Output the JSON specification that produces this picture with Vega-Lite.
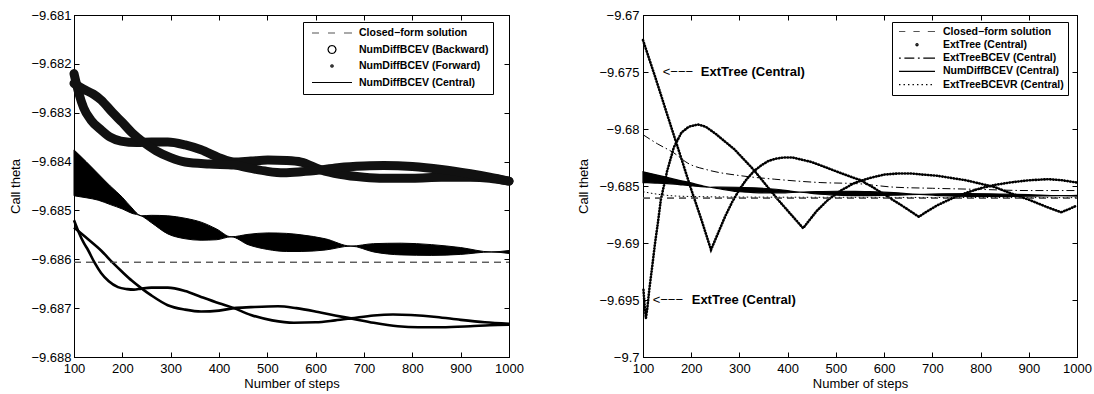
{
  "$schema": "https://vega.github.io/schema/vega-lite/v6.json",
  "background": "white",
  "padding": {"left": 9, "top": 8, "right": 5, "bottom": 5},
  "bounds": "flush",
  "spacing": 134,
  "datasets": {
    "closed": [{"x": 100, "y": -9.68606}, {"x": 1000, "y": -9.68606}],
    "band": [
      {"x": 100, "y": -9.68376, "y2": -9.68470}, {"x": 125, "y": -9.68400, "y2": -9.68474},
      {"x": 150, "y": -9.68425, "y2": -9.68479}, {"x": 175, "y": -9.68450, "y2": -9.68488},
      {"x": 200, "y": -9.68473, "y2": -9.68497}, {"x": 220, "y": -9.68495, "y2": -9.68506},
      {"x": 239, "y": -9.68511, "y2": -9.68511}, {"x": 260, "y": -9.68510, "y2": -9.68525},
      {"x": 294, "y": -9.68511, "y2": -9.68548}, {"x": 330, "y": -9.68516, "y2": -9.68558},
      {"x": 363, "y": -9.68524, "y2": -9.68561}, {"x": 395, "y": -9.68538, "y2": -9.68560},
      {"x": 425, "y": -9.68554, "y2": -9.68554}, {"x": 460, "y": -9.68549, "y2": -9.68570},
      {"x": 501, "y": -9.68546, "y2": -9.68580}, {"x": 540, "y": -9.68547, "y2": -9.68584},
      {"x": 570, "y": -9.68550, "y2": -9.68584}, {"x": 620, "y": -9.68558, "y2": -9.68581},
      {"x": 673, "y": -9.68573, "y2": -9.68573}, {"x": 720, "y": -9.68568, "y2": -9.68585},
      {"x": 777, "y": -9.68567, "y2": -9.68591}, {"x": 840, "y": -9.68570, "y2": -9.68592},
      {"x": 900, "y": -9.68576, "y2": -9.68590}, {"x": 963, "y": -9.68585, "y2": -9.68585},
      {"x": 1000, "y": -9.68582, "y2": -9.68588}
    ],
    "lb": [
      {"c": "q", "x": 100, "y": -9.68220}, {"c": "q", "x": 110, "y": -9.68260}, {"c": "q", "x": 120, "y": -9.68290},
      {"c": "q", "x": 135, "y": -9.68315}, {"c": "q", "x": 156, "y": -9.68335}, {"c": "q", "x": 175, "y": -9.68350},
      {"c": "q", "x": 197, "y": -9.68358}, {"c": "q", "x": 230, "y": -9.68361}, {"c": "q", "x": 260, "y": -9.68360},
      {"c": "q", "x": 294, "y": -9.68360}, {"c": "q", "x": 330, "y": -9.68366}, {"c": "q", "x": 363, "y": -9.68376},
      {"c": "q", "x": 400, "y": -9.68392}, {"c": "q", "x": 431, "y": -9.68401}, {"c": "q", "x": 466, "y": -9.68399},
      {"c": "q", "x": 501, "y": -9.68397}, {"c": "q", "x": 540, "y": -9.68398}, {"c": "q", "x": 570, "y": -9.68401},
      {"c": "q", "x": 611, "y": -9.68417}, {"c": "q", "x": 650, "y": -9.68426}, {"c": "q", "x": 700, "y": -9.68432},
      {"c": "q", "x": 741, "y": -9.68434}, {"c": "q", "x": 800, "y": -9.68434}, {"c": "q", "x": 860, "y": -9.68432},
      {"c": "q", "x": 920, "y": -9.68432}, {"c": "q", "x": 960, "y": -9.68434}, {"c": "q", "x": 1000, "y": -9.68440},
      {"c": "p", "x": 100, "y": -9.68240}, {"c": "p", "x": 120, "y": -9.68252}, {"c": "p", "x": 140, "y": -9.68262},
      {"c": "p", "x": 156, "y": -9.68274}, {"c": "p", "x": 180, "y": -9.68300}, {"c": "p", "x": 200, "y": -9.68320},
      {"c": "p", "x": 220, "y": -9.68341}, {"c": "p", "x": 243, "y": -9.68360}, {"c": "p", "x": 270, "y": -9.68378},
      {"c": "p", "x": 300, "y": -9.68392}, {"c": "p", "x": 330, "y": -9.68401}, {"c": "p", "x": 380, "y": -9.68405},
      {"c": "p", "x": 431, "y": -9.68407}, {"c": "p", "x": 466, "y": -9.68414}, {"c": "p", "x": 500, "y": -9.68420},
      {"c": "p", "x": 534, "y": -9.68423}, {"c": "p", "x": 570, "y": -9.68421}, {"c": "p", "x": 611, "y": -9.68417},
      {"c": "p", "x": 650, "y": -9.68412}, {"c": "p", "x": 700, "y": -9.68409}, {"c": "p", "x": 741, "y": -9.68408},
      {"c": "p", "x": 800, "y": -9.68410}, {"c": "p", "x": 860, "y": -9.68416}, {"c": "p", "x": 920, "y": -9.68425},
      {"c": "p", "x": 960, "y": -9.68432}, {"c": "p", "x": 1000, "y": -9.68440}
    ],
    "lf": [
      {"c": "f1", "x": 100, "y": -9.68520}, {"c": "f1", "x": 110, "y": -9.68545}, {"c": "f1", "x": 120, "y": -9.68566},
      {"c": "f1", "x": 129, "y": -9.68581}, {"c": "f1", "x": 142, "y": -9.68606}, {"c": "f1", "x": 156, "y": -9.68628},
      {"c": "f1", "x": 172, "y": -9.68645}, {"c": "f1", "x": 191, "y": -9.68657}, {"c": "f1", "x": 210, "y": -9.68661},
      {"c": "f1", "x": 224, "y": -9.68662}, {"c": "f1", "x": 239, "y": -9.68660}, {"c": "f1", "x": 260, "y": -9.68658},
      {"c": "f1", "x": 294, "y": -9.68658}, {"c": "f1", "x": 330, "y": -9.68665}, {"c": "f1", "x": 363, "y": -9.68677},
      {"c": "f1", "x": 400, "y": -9.68690}, {"c": "f1", "x": 431, "y": -9.68700}, {"c": "f1", "x": 466, "y": -9.68714},
      {"c": "f1", "x": 510, "y": -9.68725}, {"c": "f1", "x": 555, "y": -9.68730}, {"c": "f1", "x": 600, "y": -9.68729},
      {"c": "f1", "x": 640, "y": -9.68725}, {"c": "f1", "x": 673, "y": -9.68721}, {"c": "f1", "x": 720, "y": -9.68715},
      {"c": "f1", "x": 760, "y": -9.68713}, {"c": "f1", "x": 797, "y": -9.68714}, {"c": "f1", "x": 850, "y": -9.68718},
      {"c": "f1", "x": 900, "y": -9.68724}, {"c": "f1", "x": 950, "y": -9.68729}, {"c": "f1", "x": 1000, "y": -9.68732},
      {"c": "f2", "x": 100, "y": -9.68535}, {"c": "f2", "x": 128, "y": -9.68558}, {"c": "f2", "x": 156, "y": -9.68582},
      {"c": "f2", "x": 180, "y": -9.68607}, {"c": "f2", "x": 200, "y": -9.68626}, {"c": "f2", "x": 220, "y": -9.68644},
      {"c": "f2", "x": 239, "y": -9.68659}, {"c": "f2", "x": 260, "y": -9.68674}, {"c": "f2", "x": 294, "y": -9.68694},
      {"c": "f2", "x": 330, "y": -9.68703}, {"c": "f2", "x": 363, "y": -9.68707}, {"c": "f2", "x": 400, "y": -9.68705},
      {"c": "f2", "x": 431, "y": -9.68700}, {"c": "f2", "x": 466, "y": -9.68698}, {"c": "f2", "x": 522, "y": -9.68696},
      {"c": "f2", "x": 560, "y": -9.68700}, {"c": "f2", "x": 605, "y": -9.68708}, {"c": "f2", "x": 640, "y": -9.68715},
      {"c": "f2", "x": 673, "y": -9.68721}, {"c": "f2", "x": 720, "y": -9.68730}, {"c": "f2", "x": 770, "y": -9.68737},
      {"c": "f2", "x": 812, "y": -9.68739}, {"c": "f2", "x": 860, "y": -9.68739}, {"c": "f2", "x": 920, "y": -9.68737},
      {"c": "f2", "x": 960, "y": -9.68735}, {"c": "f2", "x": 1000, "y": -9.68734}
    ],
    "re": [
      {"c": "a", "x": 100, "y": -9.6722}, {"c": "a", "x": 125, "y": -9.6754}, {"c": "a", "x": 150, "y": -9.6787},
      {"c": "a", "x": 175, "y": -9.6820}, {"c": "a", "x": 200, "y": -9.6853}, {"c": "a", "x": 220, "y": -9.6878},
      {"c": "a", "x": 241, "y": -9.6906}, {"c": "a", "x": 255, "y": -9.6892}, {"c": "a", "x": 270, "y": -9.6877},
      {"c": "a", "x": 285, "y": -9.6864}, {"c": "a", "x": 300, "y": -9.6853}, {"c": "a", "x": 315, "y": -9.6844},
      {"c": "a", "x": 330, "y": -9.6837}, {"c": "a", "x": 345, "y": -9.6832}, {"c": "a", "x": 360, "y": -9.6828},
      {"c": "a", "x": 376, "y": -9.6826}, {"c": "a", "x": 392, "y": -9.6825}, {"c": "a", "x": 410, "y": -9.6825},
      {"c": "a", "x": 430, "y": -9.6827}, {"c": "a", "x": 450, "y": -9.6829}, {"c": "a", "x": 475, "y": -9.6833},
      {"c": "a", "x": 500, "y": -9.6837}, {"c": "a", "x": 525, "y": -9.6841}, {"c": "a", "x": 552, "y": -9.6845},
      {"c": "a", "x": 580, "y": -9.6852}, {"c": "a", "x": 610, "y": -9.6860}, {"c": "a", "x": 640, "y": -9.6868},
      {"c": "a", "x": 672, "y": -9.6877}, {"c": "a", "x": 690, "y": -9.6872}, {"c": "a", "x": 710, "y": -9.6867},
      {"c": "a", "x": 740, "y": -9.6861}, {"c": "a", "x": 770, "y": -9.6856}, {"c": "a", "x": 800, "y": -9.6852},
      {"c": "a", "x": 830, "y": -9.6849}, {"c": "a", "x": 860, "y": -9.6847}, {"c": "a", "x": 900, "y": -9.6845},
      {"c": "a", "x": 940, "y": -9.6844}, {"c": "a", "x": 970, "y": -9.6845}, {"c": "a", "x": 1000, "y": -9.6847},
      {"c": "b", "x": 101, "y": -9.6941}, {"c": "b", "x": 103, "y": -9.6953}, {"c": "b", "x": 106, "y": -9.6966},
      {"c": "b", "x": 109, "y": -9.6957}, {"c": "b", "x": 113, "y": -9.6941}, {"c": "b", "x": 119, "y": -9.6921},
      {"c": "b", "x": 125, "y": -9.6900}, {"c": "b", "x": 131, "y": -9.6882}, {"c": "b", "x": 137, "y": -9.6862},
      {"c": "b", "x": 150, "y": -9.6837}, {"c": "b", "x": 164, "y": -9.6816}, {"c": "b", "x": 180, "y": -9.6803},
      {"c": "b", "x": 195, "y": -9.6798}, {"c": "b", "x": 214, "y": -9.6796}, {"c": "b", "x": 230, "y": -9.6798},
      {"c": "b", "x": 250, "y": -9.6804}, {"c": "b", "x": 270, "y": -9.6811}, {"c": "b", "x": 290, "y": -9.6818},
      {"c": "b", "x": 330, "y": -9.6836}, {"c": "b", "x": 380, "y": -9.6862}, {"c": "b", "x": 432, "y": -9.6887},
      {"c": "b", "x": 445, "y": -9.6880}, {"c": "b", "x": 460, "y": -9.6872}, {"c": "b", "x": 484, "y": -9.6862},
      {"c": "b", "x": 510, "y": -9.6854}, {"c": "b", "x": 540, "y": -9.6847}, {"c": "b", "x": 570, "y": -9.6843},
      {"c": "b", "x": 600, "y": -9.6840}, {"c": "b", "x": 630, "y": -9.6839}, {"c": "b", "x": 656, "y": -9.6839},
      {"c": "b", "x": 680, "y": -9.6840}, {"c": "b", "x": 710, "y": -9.6841}, {"c": "b", "x": 740, "y": -9.6843},
      {"c": "b", "x": 770, "y": -9.6845}, {"c": "b", "x": 800, "y": -9.6848}, {"c": "b", "x": 830, "y": -9.6851},
      {"c": "b", "x": 860, "y": -9.6856}, {"c": "b", "x": 900, "y": -9.6862}, {"c": "b", "x": 935, "y": -9.6868},
      {"c": "b", "x": 967, "y": -9.6873}, {"c": "b", "x": 985, "y": -9.6870}, {"c": "b", "x": 1000, "y": -9.6867}
    ],
    "rc": [
      {"x": 100, "y": -9.6805}, {"x": 130, "y": -9.6813}, {"x": 164, "y": -9.6821}, {"x": 193, "y": -9.6830},
      {"x": 235, "y": -9.6836}, {"x": 303, "y": -9.6841}, {"x": 372, "y": -9.6844}, {"x": 469, "y": -9.6847},
      {"x": 546, "y": -9.6848}, {"x": 620, "y": -9.6851}, {"x": 700, "y": -9.6852}, {"x": 800, "y": -9.6853},
      {"x": 900, "y": -9.6854}, {"x": 1000, "y": -9.6854}
    ],
    "rr": [
      {"x": 100, "y": -9.68550}, {"x": 130, "y": -9.68572}, {"x": 180, "y": -9.68590}, {"x": 300, "y": -9.68597},
      {"x": 600, "y": -9.68600}, {"x": 1000, "y": -9.68602}
    ],
    "arrows": [{"x": 141, "y": -9.675, "t": "<−−−"}, {"x": 120, "y": -9.695, "t": "<−−−"}],
    "labels": [{"x": 220, "y": -9.675, "t": "ExtTree (Central)"}, {"x": 201, "y": -9.695, "t": "ExtTree (Central)"}],
    "legL": [{"s": "Closed−form solution"}, {"s": "NumDiffBCEV (Backward)"}, {"s": "NumDiffBCEV (Forward)"}, {"s": "NumDiffBCEV (Central)"}],
    "legR": [{"s2": "Closed−form solution"}, {"s2": "ExtTree (Central)"}, {"s2": "ExtTreeBCEV (Central)"}, {"s2": "NumDiffBCEV (Central)"}, {"s2": "ExtTreeBCEVR (Central)"}]
  },
  "hconcat": [
    {
      "width": 435,
      "height": 342,
      "layer": [
        {
          "encoding": {
            "x": {"field": "x", "type": "quantitative", "scale": {"domain": [100, 1000], "nice": false, "zero": false},
              "axis": {"title": "Number of steps", "values": [100, 200, 300, 400, 500, 600, 700, 800, 900, 1000], "format": "d", "tickSize": -5, "labelPadding": 10.5, "titlePadding": 2, "labelFlush": false}},
            "y": {"field": "y", "type": "quantitative", "scale": {"domain": [-9.688, -9.681], "nice": false, "zero": false},
              "axis": {"title": "Call theta", "values": [-9.688, -9.687, -9.686, -9.685, -9.684, -9.683, -9.682, -9.681], "format": ".3f", "tickSize": -5, "labelPadding": 8, "titlePadding": 8}}
          },
          "layer": [
            {"data": {"name": "closed"}, "mark": {"type": "line", "color": "#555555", "strokeWidth": 1.1, "strokeDash": [7, 5]}},
            {"data": {"name": "band"}, "mark": {"type": "area", "color": "black", "stroke": "black", "strokeWidth": 1, "interpolate": "monotone"}, "encoding": {"y2": {"field": "y2"}}},
            {"data": {"name": "lf"}, "mark": {"type": "line", "color": "black", "strokeWidth": 2.6, "interpolate": "monotone"}, "encoding": {"detail": {"field": "c"}}},
            {"data": {"name": "lb"}, "mark": {"type": "line", "color": "#111111", "strokeWidth": 9, "strokeCap": "round", "interpolate": "monotone"}, "encoding": {"detail": {"field": "c"}}},
            {"data": {"name": "legL"}, "mark": {"type": "point", "opacity": 0, "filled": false},
              "encoding": {
                "shape": {"field": "s", "type": "nominal",
                  "scale": {"domain": ["Closed−form solution", "NumDiffBCEV (Backward)", "NumDiffBCEV (Forward)", "NumDiffBCEV (Central)"],
                    "range": ["M-1,0H-0.65M-0.2,0H0.15M0.6,0H1",
                      "M0.2,0L0.173,0.1L0.1,0.173L0,0.2L-0.1,0.173L-0.173,0.1L-0.2,0L-0.173,-0.1L-0.1,-0.173L0,-0.2L0.1,-0.173L0.173,-0.1Z",
                      "M0.06,0L0.042,0.042L0,0.06L-0.042,0.042L-0.06,0L-0.042,-0.042L0,-0.06L0.042,-0.042Z",
                      "M-1,0H1"]},
                  "legend": {"orient": "none", "legendX": 229, "legendY": 7, "title": null, "strokeColor": "black", "fillColor": "white", "padding": 4, "symbolSize": 1600, "clipHeight": 14, "rowPadding": 2.5, "symbolOffset": 4, "labelOffset": 6, "labelFont": "Liberation Sans", "labelFontWeight": "bold", "labelFontSize": 10.5, "labelColor": "black", "symbolStrokeWidth": 1.2, "labelLimit": 300}},
                "stroke": {"field": "s", "type": "nominal",
                  "scale": {"domain": ["Closed−form solution", "NumDiffBCEV (Backward)", "NumDiffBCEV (Forward)", "NumDiffBCEV (Central)"], "range": ["#555555", "black", "black", "black"]},
                  "legend": {"orient": "none", "legendX": 229, "legendY": 7, "title": null, "strokeColor": "black", "fillColor": "white", "padding": 4, "symbolSize": 1600, "clipHeight": 14, "rowPadding": 2.5, "symbolOffset": 4, "labelOffset": 6, "labelFont": "Liberation Sans", "labelFontWeight": "bold", "labelFontSize": 10.5, "labelColor": "black", "symbolStrokeWidth": 1.2, "labelLimit": 300}}
              }}
          ]
        },
        {
          "data": {"name": "closed"},
          "mark": {"type": "line", "color": "#555555", "strokeWidth": 1.1, "strokeDash": [7, 5]},
          "encoding": {
            "x": {"field": "x", "type": "quantitative", "scale": {"domain": [100, 1000], "nice": false, "zero": false},
              "axis": {"orient": "top", "title": null, "labels": false, "values": [100, 200, 300, 400, 500, 600, 700, 800, 900, 1000], "tickSize": -5}},
            "y": {"field": "y", "type": "quantitative", "scale": {"domain": [-9.688, -9.681], "nice": false, "zero": false},
              "axis": {"orient": "right", "title": null, "labels": false, "values": [-9.688, -9.687, -9.686, -9.685, -9.684, -9.683, -9.682, -9.681], "tickSize": -5}}
          }
        }
      ],
      "resolve": {"axis": {"x": "independent", "y": "independent"}}
    },
    {
      "width": 434,
      "height": 342,
      "layer": [
        {
          "encoding": {
            "x": {"field": "x", "type": "quantitative", "scale": {"domain": [100, 1000], "nice": false, "zero": false},
              "axis": {"title": "Number of steps", "values": [100, 200, 300, 400, 500, 600, 700, 800, 900, 1000], "format": "d", "tickSize": -5, "labelPadding": 10.5, "titlePadding": 2, "labelFlush": false}},
            "y": {"field": "y", "type": "quantitative", "scale": {"domain": [-9.7, -9.67], "nice": false, "zero": false},
              "axis": {"title": "Call theta", "values": [-9.7, -9.695, -9.69, -9.685, -9.68, -9.675, -9.67], "format": ".3~f", "tickSize": -5, "labelPadding": 9, "titlePadding": 8}}
          },
          "layer": [
            {"data": {"name": "closed"}, "mark": {"type": "line", "color": "#555555", "strokeWidth": 1.1, "strokeDash": [7, 5]}},
            {"data": {"name": "rr"}, "mark": {"type": "line", "color": "black", "strokeWidth": 1, "strokeDash": [1.5, 2.5], "interpolate": "monotone"}},
            {"data": {"name": "band"}, "mark": {"type": "area", "color": "black", "stroke": "black", "strokeWidth": 1.2, "interpolate": "monotone"}, "encoding": {"y2": {"field": "y2"}}},
            {"data": {"name": "rc"}, "mark": {"type": "line", "color": "black", "strokeWidth": 1, "strokeDash": [8, 3, 1.5, 3], "interpolate": "monotone"}},
            {"data": {"name": "re"}, "mark": {"type": "line", "color": "black", "strokeWidth": 2.6, "strokeDash": [0.5, 2.4], "strokeCap": "round"}, "encoding": {"detail": {"field": "c"}}},
            {"data": {"name": "arrows"}, "mark": {"type": "text", "align": "left", "baseline": "middle", "font": "Liberation Sans", "fontSize": 13, "color": "black"}, "encoding": {"text": {"field": "t"}}},
            {"data": {"name": "labels"}, "mark": {"type": "text", "align": "left", "baseline": "middle", "font": "Liberation Sans", "fontSize": 13, "fontWeight": "bold", "color": "black"}, "encoding": {"text": {"field": "t"}}},
            {"data": {"name": "legR"}, "mark": {"type": "point", "opacity": 0, "filled": false},
              "encoding": {
                "shape": {"field": "s2", "type": "nominal",
                  "scale": {"domain": ["Closed−form solution", "ExtTree (Central)", "ExtTreeBCEV (Central)", "NumDiffBCEV (Central)", "ExtTreeBCEVR (Central)"],
                    "range": ["M-1,0H-0.65M-0.2,0H0.15M0.6,0H1",
                      "M0.06,0L0.042,0.042L0,0.06L-0.042,0.042L-0.06,0L-0.042,-0.042L0,-0.06L0.042,-0.042Z",
                      "M-1,0H-0.9M-0.7,0H-0.15M0.05,0H0.15M0.35,0H1",
                      "M-1,0H1",
                      "M-1,0H-0.92M-0.75,0H-0.67M-0.5,0H-0.42M-0.25,0H-0.17M0,0H0.08M0.25,0H0.33M0.5,0H0.58M0.75,0H0.83"]},
                  "legend": {"orient": "none", "legendX": 249, "legendY": 7, "title": null, "strokeColor": "black", "fillColor": "white", "padding": 4, "symbolSize": 1296, "clipHeight": 11, "rowPadding": 2.3, "symbolOffset": 2, "labelOffset": 7, "labelFont": "Liberation Sans", "labelFontWeight": "bold", "labelFontSize": 10.5, "labelColor": "black", "symbolStrokeWidth": 1.2, "labelLimit": 300}},
                "stroke": {"field": "s2", "type": "nominal",
                  "scale": {"domain": ["Closed−form solution", "ExtTree (Central)", "ExtTreeBCEV (Central)", "NumDiffBCEV (Central)", "ExtTreeBCEVR (Central)"], "range": ["#555555", "black", "black", "black", "black"]},
                  "legend": {"orient": "none", "legendX": 249, "legendY": 7, "title": null, "strokeColor": "black", "fillColor": "white", "padding": 4, "symbolSize": 1296, "clipHeight": 11, "rowPadding": 2.3, "symbolOffset": 2, "labelOffset": 7, "labelFont": "Liberation Sans", "labelFontWeight": "bold", "labelFontSize": 10.5, "labelColor": "black", "symbolStrokeWidth": 1.2, "labelLimit": 300}}
              }}
          ]
        },
        {
          "data": {"name": "closed"},
          "mark": {"type": "line", "color": "#555555", "strokeWidth": 1.1, "strokeDash": [7, 5]},
          "encoding": {
            "x": {"field": "x", "type": "quantitative", "scale": {"domain": [100, 1000], "nice": false, "zero": false},
              "axis": {"orient": "top", "title": null, "labels": false, "values": [100, 200, 300, 400, 500, 600, 700, 800, 900, 1000], "tickSize": -5}},
            "y": {"field": "y", "type": "quantitative", "scale": {"domain": [-9.7, -9.67], "nice": false, "zero": false},
              "axis": {"orient": "right", "title": null, "labels": false, "values": [-9.7, -9.695, -9.69, -9.685, -9.68, -9.675, -9.67], "tickSize": -5}}
          }
        }
      ],
      "resolve": {"axis": {"x": "independent", "y": "independent"}}
    }
  ],
  "resolve": {"scale": {"shape": "independent", "stroke": "independent"}, "legend": {"shape": "independent", "stroke": "independent"}},
  "config": {
    "font": "Liberation Sans",
    "view": {"stroke": "black", "strokeWidth": 1},
    "axis": {"grid": false, "domainColor": "black", "domainWidth": 1, "tickColor": "black", "tickWidth": 1, "labelColor": "black", "titleColor": "black", "labelFont": "Liberation Sans", "titleFont": "Liberation Sans", "labelFontSize": 13, "titleFontSize": 13, "titleFontWeight": "normal"}
  }
}
